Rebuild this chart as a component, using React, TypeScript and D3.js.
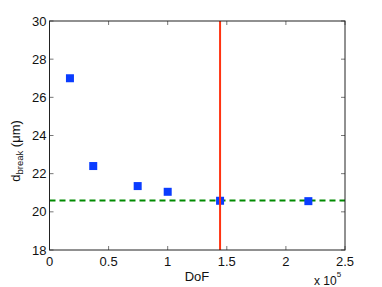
import React from 'react'
import * as d3 from 'd3'

const dof = [0.173e5, 0.37e5, 0.746e5, 1.0e5, 1.443e5, 2.19e5]
const dBreak = [27.0, 22.4, 21.35, 21.05, 20.58, 20.56]
const xTicks = [0, 0.5e5, 1e5, 1.5e5, 2e5, 2.5e5]
const xTickLabels = ['0', '0.5', '1', '1.5', '2', '2.5']
const yTicks = [18, 20, 22, 24, 26, 28, 30]
const plateau = 20.6
const threshold = 1.443e5

export default function App() {
  const W = 382
  const H = 287
  const left = 49.5
  const right = 345
  const top = 21
  const bottom = 250

  const x = d3.scaleLinear().domain([0, 2.5e5]).range([left, right])
  const y = d3.scaleLinear().domain([18, 30]).range([bottom, top])
  const font = 'Liberation Sans, Arial, sans-serif'
  const tick = 4
  const ms = 8

  return (
    <svg width={W} height={H} style={{ position: 'absolute', left: 0, top: 0, background: '#fff' }}>
      {/* ticks, inside on all four sides */}
      {xTicks.map((t, i) => (
        <g key={'x' + i}>
          <line x1={x(t)} x2={x(t)} y1={bottom} y2={bottom - tick} stroke="#777" />
          <line x1={x(t)} x2={x(t)} y1={top} y2={top + tick} stroke="#777" />
          <text x={x(t)} y={265.5} fontSize={13} fontFamily={font} textAnchor="middle" fill="#111">
            {xTickLabels[i]}
          </text>
        </g>
      ))}
      {yTicks.map((t, i) => (
        <g key={'y' + i}>
          <line x1={left} x2={left + tick} y1={y(t)} y2={y(t)} stroke="#777" />
          <line x1={right} x2={right - tick} y1={y(t)} y2={y(t)} stroke="#777" />
          <text x={46.5} y={y(t) + 4.6} fontSize={13} fontFamily={font} textAnchor="end" fill="#111">
            {t}
          </text>
        </g>
      ))}

      {/* plateau line */}
      <line x1={left} x2={right} y1={y(plateau)} y2={y(plateau)}
        stroke="#008a00" strokeWidth={2} strokeDasharray="6,4" />

      {dof.map((d, i) => (
        <rect key={i} x={x(d) - ms / 2} y={y(dBreak[i]) - ms / 2} width={ms} height={ms} fill="#0a3cff" />
      ))}

      <line x1={x(threshold)} x2={x(threshold)} y1={top} y2={bottom} stroke="#ff3311" strokeWidth={2} />

      <rect x={left} y={top} width={right - left} height={bottom - top} fill="none" stroke="#222" strokeWidth={1} />

      <text x={197} y={280.5} fontSize={13} fontFamily={font} textAnchor="middle" fill="#111">DoF</text>
      <text x={314} y={285} fontSize={12} fontFamily={font} fill="#111">
        x 10<tspan fontSize={8} dy={-8}>5</tspan>
      </text>

      <text transform="translate(20,151) rotate(-90)" fontSize={13} fontFamily={font} textAnchor="middle" fill="#111">
        d<tspan fontSize={9.5} dy={3}>break</tspan><tspan dy={-3}> (μm)</tspan>
      </text>
    </svg>
  )
}
